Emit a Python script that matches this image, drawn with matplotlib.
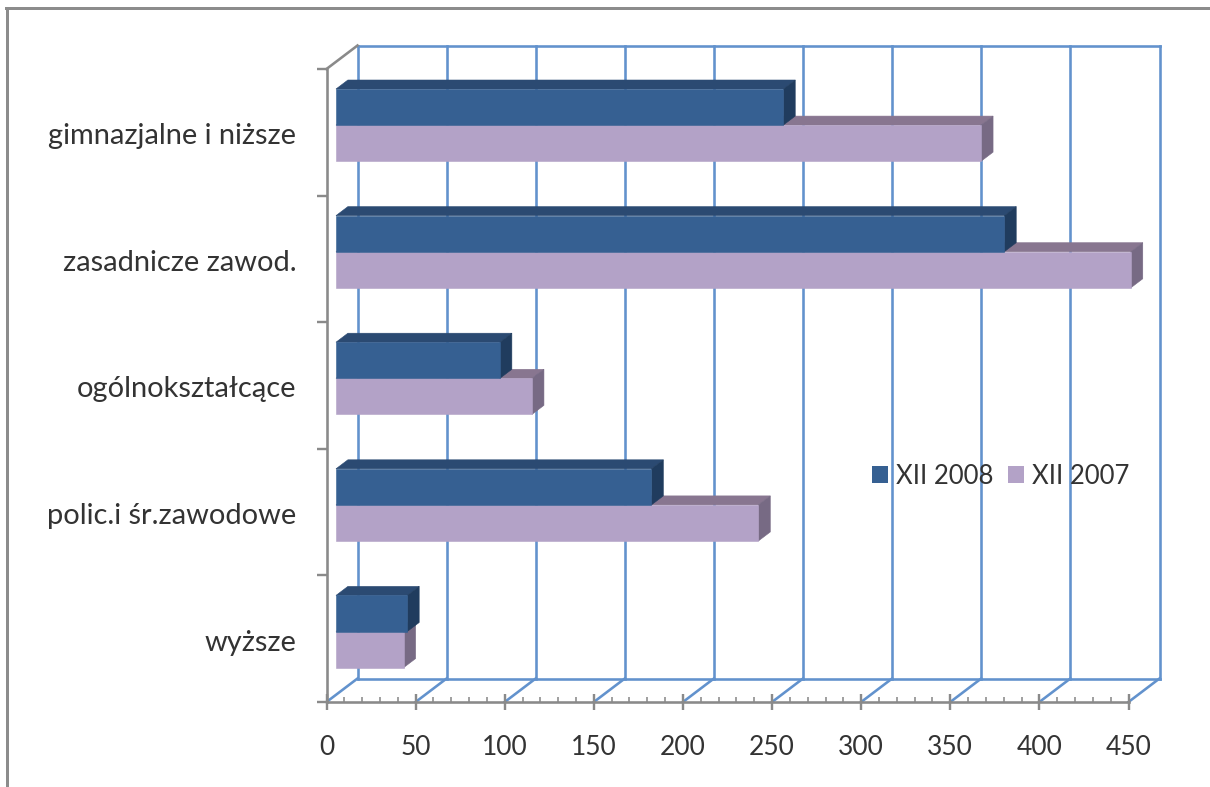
import matplotlib
matplotlib.use("Agg")
import matplotlib.pyplot as plt
from matplotlib.patches import Patch
from matplotlib.lines import Line2D

categories = ["wyższe", "polic.i śr.zawodowe", "ogólnokształcące", "zasadnicze zawod.", "gimnazjalne i niższe"]
values_2008 = [40, 177, 92, 375, 251]
values_2007 = [38, 237, 110, 446, 362]
series_names = ["XII 2008", "XII 2007"]
x_ticks = list(range(0, 451, 50))
x_minor = list(range(0, 451, 10))

W, H, DPI = 1210, 787, 100
plt.rcParams["font.family"] = ["Lato", "DejaVu Sans"]
fig = plt.figure(figsize=(W / DPI, H / DPI), dpi=DPI, facecolor="white")
L, R, T, B = 326.5, 1128.5, 69, 702
ax = fig.add_axes([L / W, 1 - B / H, (R - L) / W, (B - T) / H])
ax.set_xlim(0, 450)
ax.set_ylim(0, 5)
ax.patch.set_visible(False)

DX = 31 * 450 / (R - L)
DY = 23.5 * 5 / (B - T)
GRAY = "#8a8a8a"
GRID = "#6292cd"
TXT = "#333333"
px = 72 / DPI


def pt(v, c, d):
    return v + d * DX, c + d * DY


def line(a, b, color, lw=2.6, z=1):
    ax.plot([a[0], b[0]], [a[1], b[1]], color=color, lw=lw * px, zorder=z,
            clip_on=False, solid_capstyle="projecting")


# back wall and floor
for v in x_ticks:
    line(pt(v, 0, 1), pt(v, 5, 1), GRID)
    line(pt(v, 0, 0), pt(v, 0, 1), GRID)
line(pt(0, 0, 1), pt(450, 0, 1), GRID)
line(pt(0, 5, 1), pt(450, 5, 1), GRID)
line(pt(0, 5, 0), pt(0, 5, 1), GRAY)

D0, D1 = 0.306, 0.69
BAR_H = 0.285


def bar3d(c0, c1, v, front, top, side, z):
    a = pt(0, c0, D0); b = pt(v, c0, D0); e = pt(v, c1, D0); f = pt(0, c1, D0)
    b2 = pt(v, c0, D1); e2 = pt(v, c1, D1); f2 = pt(0, c1, D1)
    kw = dict(clip_on=False, zorder=z, lw=0.4, joinstyle="miter")
    ax.fill(*zip(f, e, e2, f2), color=top, **kw)
    ax.fill(*zip(b, b2, e2, e), color=side, **kw)
    ax.fill(*zip(a, b, e, f), color=front, **kw)


for i in range(len(categories)):
    mid = i + 0.5
    bar3d(mid - BAR_H, mid, values_2007[i], "#b3a2c7", "#887690", "#776a84", 3)
    bar3d(mid, mid + BAR_H, values_2008[i], "#366092", "#2b4a72", "#203c5e", 4)
    ax.annotate(categories[i], xy=(0, mid), xytext=(-30 * px, -4 * px), textcoords="offset points",
                ha="right", va="center", fontsize=20.9, color=TXT, zorder=6)

# axes
for s in ("top", "right"):
    ax.spines[s].set_visible(False)
for s in ("left", "bottom"):
    ax.spines[s].set_color(GRAY)
    ax.spines[s].set_linewidth(2.6 * px)
    ax.spines[s].set_zorder(5)
ax.set_xticks(x_ticks)
ax.set_xticks(x_minor, minor=True)
ax.set_yticks(range(6))
ax.set_yticklabels([])
ax.tick_params(axis="x", which="major", direction="inout", length=16 * px, width=2.4 * px,
               color=GRAY, labelsize=19, labelcolor=TXT, pad=25 * px)
ax.tick_params(axis="x", which="minor", direction="in", length=5 * px, width=1.6 * px, color=GRAY)
ax.tick_params(axis="y", which="major", direction="out", length=10 * px, width=2.4 * px, color=GRAY)

handles = [Patch(facecolor="#366092", label=series_names[0]),
           Patch(facecolor="#b3a2c7", label=series_names[1])]
leg = ax.legend(handles=handles, ncol=2, frameon=False, fontsize=18.5, labelcolor=TXT,
                handlelength=0.62, handleheight=0.62, handletextpad=0.31, columnspacing=0.58,
                loc="center", bbox_to_anchor=((1000.5 - L) / (R - L), (B - 476) / (B - T)),
                borderpad=0, borderaxespad=0)
leg.set_zorder(7)

# outer frame
fig.add_artist(Line2D([6 / W, 1], [1 - 8 / H, 1 - 8 / H], color="#8c8c8c", lw=3 * px))
fig.add_artist(Line2D([7 / W, 7 / W], [1 - 8 / H, 1 - 785 / H], color="#8c8c8c", lw=3 * px))

fig.savefig("out.png", dpi=DPI, facecolor="white")
